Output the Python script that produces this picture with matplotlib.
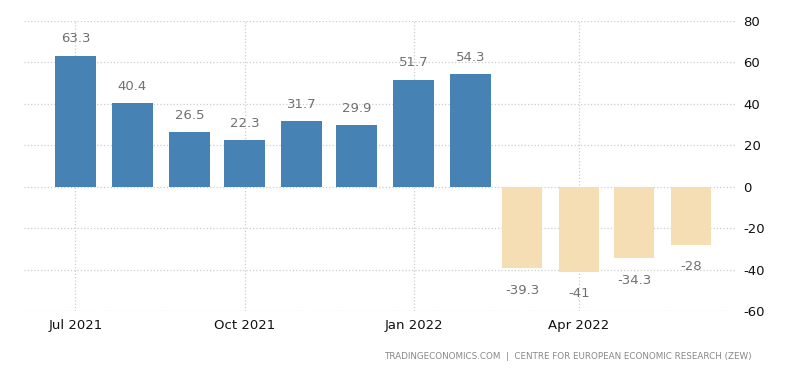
import datetime as dt
import matplotlib
matplotlib.use("Agg")
import matplotlib.pyplot as plt
import matplotlib.dates as mdates

months = ["2021-07", "2021-08", "2021-09", "2021-10", "2021-11", "2021-12",
          "2022-01", "2022-02", "2022-03", "2022-04", "2022-05", "2022-06"]
values = [63.3, 40.4, 26.5, 22.3, 31.7, 29.9, 51.7, 54.3, -39.3, -41, -34.3, -28]
value_labels = ["63.3", "40.4", "26.5", "22.3", "31.7", "29.9", "51.7", "54.3",
                "-39.3", "-41", "-34.3", "-28"]
tick_months = ["2021-07", "2021-10", "2022-01", "2022-04"]
tick_labels = ["Jul 2021", "Oct 2021", "Jan 2022", "Apr 2022"]
y_ticks = [-60, -40, -20, 0, 20, 40, 60, 80]

plt.rcParams["axes.unicode_minus"] = False

dates = [dt.datetime.strptime(m, "%Y-%m") for m in months]
tick_dates = [dt.datetime.strptime(m, "%Y-%m") for m in tick_months]
colors = ["#4682b4" if v >= 0 else "#f5deb3" for v in values]

fig = plt.figure(figsize=(8, 3.73), dpi=100)
ax = fig.add_axes([0.03, 0.166, 0.889, 0.778])

ax.bar(dates, values, width=22, color=colors, zorder=2)

for d, v, lab in zip(dates, values, value_labels):
    off = 12 if v >= 0 else -16
    ax.annotate(lab, (mdates.date2num(d), v), xytext=(0, off), textcoords="offset points",
                ha="center", va="center", fontsize=9.5, color="#707070")

ax.set_xlim(dt.datetime(2021, 6, 3), dt.datetime(2022, 6, 25))
ax.set_ylim(-60, 80)
ax.set_yticks(y_ticks)
ax.set_xticks(tick_dates)
ax.set_xticklabels(tick_labels)
ax.yaxis.tick_right()
ax.tick_params(axis="both", length=0, labelsize=9.5, colors="#111111")
ax.tick_params(axis="y", pad=6)
ax.tick_params(axis="x", pad=6)
for lab in ax.get_yticklabels():
    lab.set_horizontalalignment("left")

ax.grid(True, color="#cccccc", linestyle=":", linewidth=0.9, zorder=0)
for s in ax.spines.values():
    s.set_visible(False)

fig.text(0.94, 0.045, "TRADINGECONOMICS.COM  |  CENTRE FOR EUROPEAN ECONOMIC RESEARCH (ZEW)",
         ha="right", va="center", fontsize=6.3, color="#888888")

fig.savefig("out.png", dpi=100)
